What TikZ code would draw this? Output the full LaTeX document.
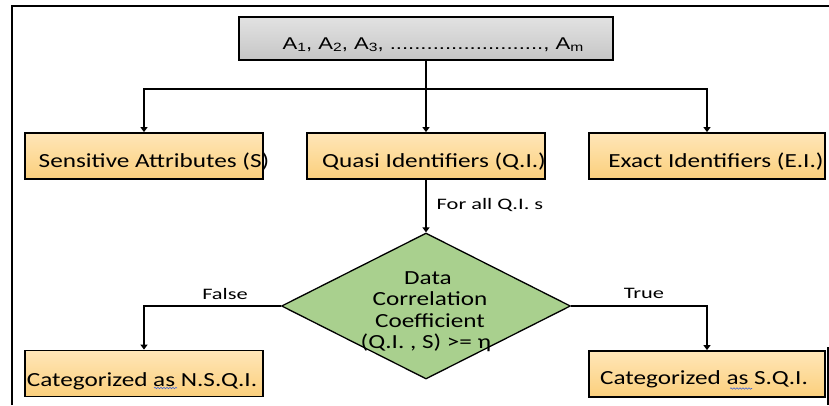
\documentclass[tikz,border=0pt]{standalone}
\usepackage{fontspec}
\usepackage{graphicx}
\usetikzlibrary{arrows.meta,shapes.geometric,decorations.pathmorphing}
\newfontfamily\calfont{Carlito}
\newfontfamily\arlfont{Liberation Sans}
% horizontally widened text
\newcommand\wide[2]{\scalebox{#1}[1]{#2}}
\newcommand\subi[1]{\raisebox{-2.8pt}{\fontsize{12}{12}\selectfont #1}}
\definecolor{orangeTop}{HTML}{FFE6B8}
\definecolor{orangeBot}{HTML}{FBCF7C}
\definecolor{grayTop}{HTML}{E2E2E2}
\definecolor{grayBot}{HTML}{C6C6C6}
\definecolor{diaGreen}{HTML}{A9D08E}
\definecolor{spell}{HTML}{3F63D8}
\tikzset{
  box/.style={draw=black, line width=1.8pt, top color=orangeTop, bottom color=orangeBot,
    minimum height=46pt, inner sep=0pt},
  graybox/.style={draw=black, line width=1.8pt, top color=grayTop, bottom color=grayBot,
    minimum width=374pt, minimum height=43pt, inner sep=0pt},
  decision/.style={diamond, draw=black, line width=1.3pt, fill=diaGreen,
    minimum width=289pt, minimum height=146pt, inner sep=0pt},
  txt/.style={anchor=base, inner sep=0pt, font=\calfont\fontsize{20}{24}\selectfont},
  lbl/.style={anchor=base, inner sep=0pt, font=\calfont\fontsize{16}{19}\selectfont},
  arr/.style={line width=1.8pt, -{Triangle[width=7pt,length=5pt]}},
  link/.style={line width=1.8pt},
  squiggle/.style={spell, line width=0.6pt, decorate,
    decoration={snake, segment length=3pt, amplitude=0.7pt}}
}
\begin{document}
\begin{tikzpicture}[x=1pt, y=-1pt]
\useasboundingbox (0,0) rectangle (829,405);
% outer frame
\draw[line width=1.8pt] (12,405) -- (12,6) -- (829,6);
\draw[line width=1.8pt] (828,347) -- (828,405);

% attribute list
\node[graybox] (top) at (426,38.5) {};
\node[anchor=base, inner sep=0pt, font=\arlfont\fontsize{17}{20}\selectfont] (ttop) at (433,49)
  {\wide{1.3}{A\subi{1}, A\subi{2}, A\subi{3}, ........................., A\subi{m}}};

% attribute classes
\node[box, minimum width=238pt] (S)  at (144,156) {};
\node[box, minimum width=238pt] (QI) at (426,156) {};
\node[box, minimum width=236pt] (EI) at (707,156) {};
\node[txt] (tS)  at (154,167) {\wide{1.26}{Sensitive Attributes (S)}};
\node[txt] (tQI) at (434,167) {\wide{1.26}{Quasi Identifiers (Q.I.)}};
\node[txt] (tEI) at (716,167) {\wide{1.26}{Exact Identifiers (E.I.)}};

% decision
\node[decision] (dia) at (426,306) {};
\node[txt] (d1) at (428,284)   {\wide{1.26}{Data}};
\node[txt] (d2) at (430,305.5) {\wide{1.26}{Correlation}};
\node[txt] (d3) at (430,327)   {\wide{1.26}{Coefficient}};
\node[txt] (d4) at (426,348.5) {\wide{1.26}{(Q.I. , S) >= η}};

% outcomes
\node[box, minimum width=238pt] (NSQI) at (144,373.5) {};
\node[box, minimum width=236pt] (SQI)  at (707,374) {};
\node[txt] (tN) at (142,386)   {\wide{1.26}{Categorized as N.S.Q.I.}};
\node[txt] (tY) at (704,384.5) {\wide{1.26}{Categorized as S.Q.I.}};
\draw[squiggle] (154,388) -- (177,388);
\draw[squiggle] (730,388.5) -- (752,388.5);

% connectors
\coordinate (hub) at (426,89);
\draw[link] (top) -- (hub);
\draw[arr] (hub) -| (S);
\draw[arr] (hub) -| (EI);
\draw[arr] (hub) -- (QI);
\draw[arr] (QI) -- (dia);
\draw[arr] (dia.west) -| (NSQI);
\draw[arr] (dia.east) -| (SQI);

% connector labels
\node[lbl] (lAll)   at (490,209) {\wide{1.4}{For all Q.I. s}};
\node[lbl] (lFalse) at (225,299) {\wide{1.4}{False}};
\node[lbl] (lTrue)  at (644,298) {\wide{1.4}{True}};
\end{tikzpicture}
\end{document}
